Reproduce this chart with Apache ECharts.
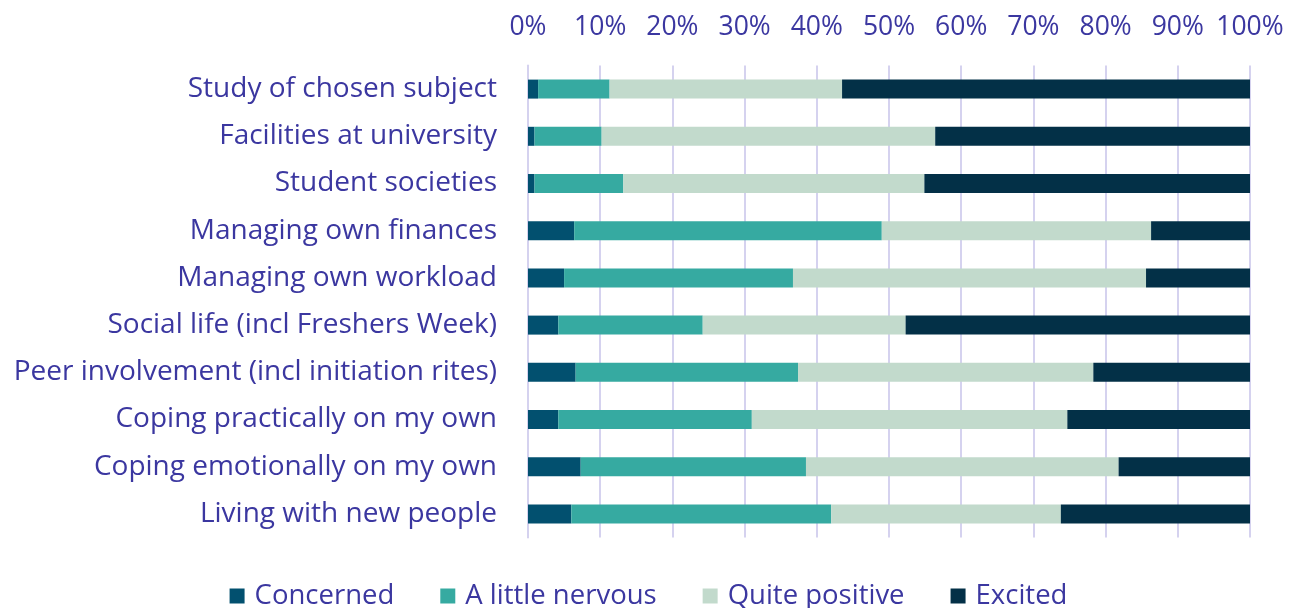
<!DOCTYPE html>
<html><head><meta charset="utf-8">
<script src="https://cdn.jsdelivr.net/npm/echarts@6/dist/echarts.min.js"></script>
<style>html,body{margin:0;padding:0;background:#fff}#c{width:1297px;height:608px}</style>
</head><body><div id="c"></div>
<script>
const categories = ["Study of chosen subject","Facilities at university","Student societies","Managing own finances","Managing own workload","Social life (incl Freshers Week)","Peer involvement (incl initiation rites)","Coping practically on my own","Coping emotionally on my own","Living with new people"];
const concerned = [1.4,0.9,0.9,6.4,5.0,4.2,6.6,4.2,7.3,6.0];
const littleNervous = [9.9,9.3,12.3,42.6,31.7,20.0,30.8,26.8,31.2,36.0];
const quitePositive = [32.2,46.2,41.7,37.3,48.9,28.1,40.9,43.7,43.3,31.8];
const excited = [56.5,43.6,45.1,13.7,14.4,47.7,21.7,25.3,18.2,26.2];
const seriesNames = ["Concerned","A little nervous","Quite positive","Excited"];
const colors = ["#02506f","#36aaa1","#c2dacc","#033047"];
const txt = "#3b37a0";
const font = "Open Sans";
const chart = echarts.init(document.getElementById('c'));
const vals = [concerned, littleNervous, quitePositive, excited];
chart.setOption({
  animation:false,
  textStyle:{fontFamily:font},
  grid:{left:528,right:47,top:65.5,bottom:70.5},
  xAxis:{type:'value',position:'top',min:0,max:100,interval:10,
    axisLabel:{formatter:'{value}%',color:txt,fontSize:26.5,fontFamily:font,margin:25},
    axisLine:{show:false},axisTick:{show:false},
    splitLine:{lineStyle:{color:'#d5d2ef',width:2}}},
  yAxis:{type:'category',data:categories,inverse:true,
    axisLabel:{color:txt,fontSize:28,fontFamily:font,margin:31,padding:[4,0,0,0]},
    axisLine:{show:true,lineStyle:{color:'#d5d2ef',width:2}},axisTick:{show:false}},
  legend:{top:577,left:'center',itemWidth:15,itemHeight:15,itemGap:46,icon:'rect',
    textStyle:{color:txt,fontSize:27.5,fontFamily:font,padding:[0,0,0,5]},data:seriesNames},
  series: seriesNames.map((n,i)=>({name:n,type:'bar',stack:'all',barWidth:19,
    data:vals[i],itemStyle:{color:colors[i]}}))
});
</script></body></html>
